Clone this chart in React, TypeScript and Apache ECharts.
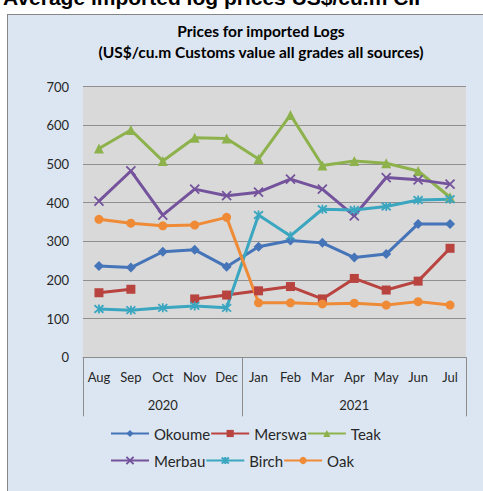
import React, { useEffect, useRef } from "react";
import * as echarts from "echarts";

const categories = ["Aug", "Sep", "Oct", "Nov", "Dec", "Jan", "Feb", "Mar", "Apr", "May", "Jun", "Jul"];
const yearLabels = ["", "", "2020", "", "", "", "", "", "2021", "", "", ""];
const yTicks = { min: 0, max: 700, interval: 100 };

const okoume = [236, 232, 273, 278, 234, 286, 302, 296, 258, 267, 345, 345];
const merswa = [167, 176, null, 151, 161, 172, 183, 151, 204, 174, 197, 282];
const teak = [540, 588, 508, 568, 566, 513, 627, 496, 508, 502, 482, 414];
const merbau = [404, 482, 368, 435, 418, 427, 461, 435, 366, 465, 459, 448];
const birch = [125, 122, 128, 133, 128, 368, 314, 383, 381, 390, 407, 409];
const oak = [357, 347, 340, 342, 362, 141, 141, 138, 140, 135, 144, 135];

const FONT = "Lato";
const TXT = "#262626";

const X_PATH = "path://M0,0L10,10M10,0L0,10";
const STAR_PATH = "path://M0,0L10,10M10,0L0,10M5,-1L5,11";

function mk(name: string, data: (number | null)[], color: string, symbol: string, size: number, stroked = false) {
  return {
    name,
    type: "line",
    data,
    xAxisIndex: 0,
    yAxisIndex: 0,
    connectNulls: false,
    symbol,
    symbolSize: size,
    lineStyle: { width: 3, color },
    itemStyle: stroked
      ? { color: "rgba(0,0,0,0)", borderColor: color, borderWidth: 1.8 }
      : { color, borderColor: color, borderWidth: 0 },
    emphasis: { disabled: true },
  };
}

export default function App() {
  const ref = useRef<HTMLDivElement>(null);
  useEffect(() => {
    if (!ref.current) return;
    const chart = echarts.init(ref.current, null, { renderer: "svg" });
    const legendText = { fontSize: 15, color: TXT, fontFamily: FONT, width: 71 };
    chart.setOption({
      animation: false,
      backgroundColor: "transparent",
      graphic: [
        {
          type: "text",
          x: 3,
          y: -13,
          style: {
            text: "Average imported log prices US$/cu.m CIF",
            fontSize: 21,
            fontWeight: "bold",
            fontFamily: "Liberation Sans",
            fill: "#000",
          },
        },
        {
          type: "text",
          x: 261,
          y: 31,
          style: {
            text: "Prices for imported Logs",
            fontSize: 15.5,
            fontWeight: "bold",
            fontFamily: FONT,
            fill: "#000",
            align: "center",
            verticalAlign: "middle",
          },
        },
        {
          type: "text",
          x: 261,
          y: 52,
          style: {
            text: "(US$/cu.m Customs value all grades all sources)",
            fontSize: 15.5,
            fontWeight: "bold",
            fontFamily: FONT,
            fill: "#000",
            align: "center",
            verticalAlign: "middle",
          },
        },
      ],
      grid: {
        left: 83,
        right: 17,
        top: 86.7,
        bottom: 133.7,
        show: true,
        backgroundColor: "#d9d9d9",
        borderWidth: 0,
      },
      xAxis: [
        {
          type: "category",
          data: categories,
          boundaryGap: true,
          position: "bottom",
          axisLine: { show: true, lineStyle: { color: "#8c8c8c", width: 1 } },
          axisTick: {
            show: true,
            length: 59,
            interval: (i: number) => i === 0 || i === 5,
            lineStyle: { color: "#8c8c8c", width: 1 },
          },
          axisLabel: { interval: 0, margin: 13, fontSize: 13, color: TXT, fontFamily: FONT },
          splitLine: { show: false },
        },
        {
          type: "category",
          data: yearLabels,
          boundaryGap: true,
          position: "bottom",
          axisLine: { show: false },
          axisTick: { show: false },
          axisLabel: { interval: 0, margin: 41, fontSize: 13, color: TXT, fontFamily: FONT },
          splitLine: { show: false },
        },
      ],
      yAxis: {
        type: "value",
        min: yTicks.min,
        max: yTicks.max,
        interval: yTicks.interval,
        axisLine: { show: false },
        axisTick: { show: false },
        axisLabel: { margin: 14, fontSize: 13, color: TXT, fontFamily: FONT },
        splitLine: { show: true, lineStyle: { color: "#8f8f8f", width: 1 } },
      },
      legend: [
        {
          data: ["Okoume", "Merswa", "Teak"],
          left: 105,
          top: 421,
          itemWidth: 38,
          itemHeight: 9,
          itemGap: 0,
          textStyle: legendText,
          selectedMode: false,
        },
        {
          data: ["Merbau", "Birch", "Oak"],
          left: 105,
          top: 448,
          itemWidth: 38,
          itemHeight: 9,
          itemGap: 0,
          textStyle: legendText,
          selectedMode: false,
        },
      ],
      series: [
        mk("Okoume", okoume, "#4674b8", "diamond", 10),
        mk("Merswa", merswa, "#b8433f", "rect", 9),
        mk("Teak", teak, "#8db24c", "triangle", 10),
        mk("Merbau", merbau, "#74539c", X_PATH, 9, true),
        mk("Birch", birch, "#3aa6c0", STAR_PATH, 9, true),
        mk("Oak", oak, "#ef8b36", "circle", 9),
      ],
    });
    return () => chart.dispose();
  }, []);

  return (
    <div style={{ position: "fixed", left: 0, top: 0, width: 483, height: 491, background: "#fff", overflow: "hidden" }}>
      <div
        style={{
          position: "absolute",
          left: 7,
          top: 14,
          width: 520,
          height: 520,
          background: "#dce6f2",
          borderLeft: "1px solid #868686",
          borderTop: "1px solid #868686",
        }}
      />
      <div ref={ref} style={{ position: "absolute", left: 0, top: 0, width: 483, height: 491 }} />
    </div>
  );
}
